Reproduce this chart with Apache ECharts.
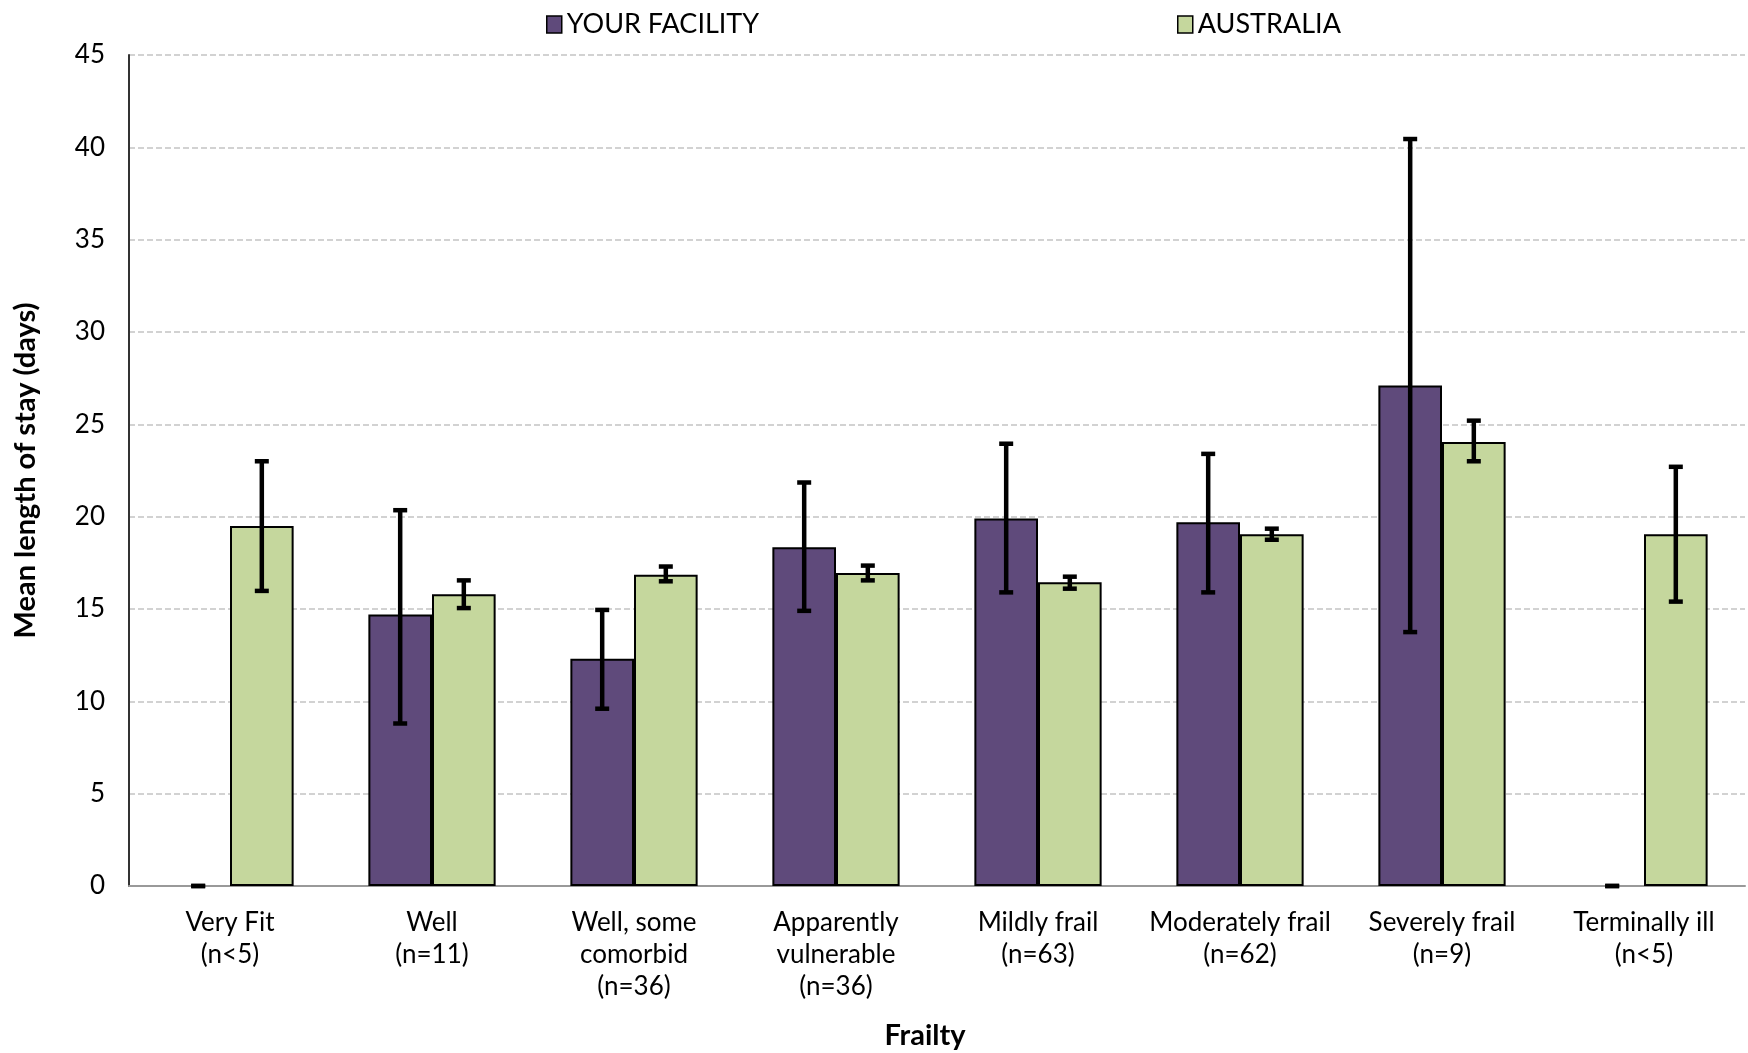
<!DOCTYPE html>
<html>
<head>
<meta charset="utf-8">
<script src="https://cdn.jsdelivr.net/npm/echarts@6/dist/echarts.min.js"></script>
<style>html,body{margin:0;padding:0;background:#fff}#main{width:1748px;height:1053px}</style>
</head>
<body>
<div id="main"></div>
<script>
const categories = ['Very Fit\n(n<5)', 'Well\n(n=11)', 'Well, some\ncomorbid\n(n=36)', 'Apparently\nvulnerable\n(n=36)',
  'Mildly frail\n(n=63)', 'Moderately frail\n(n=62)', 'Severely frail\n(n=9)', 'Terminally ill\n(n<5)'];
const facility = [0, 14.7, 12.3, 18.35, 19.9, 19.7, 27.1, 0];
const facilityLow = [0, 8.8, 9.6, 14.9, 15.9, 15.9, 13.75, 0];
const facilityHigh = [0, 20.35, 14.95, 21.85, 23.95, 23.4, 40.45, 0];
const australia = [19.5, 15.8, 16.85, 16.95, 16.45, 19.05, 24.05, 19.05];
const australiaLow = [15.98, 15.05, 16.5, 16.55, 16.1, 18.75, 23.0, 15.4];
const australiaHigh = [23.0, 16.55, 17.3, 17.35, 16.75, 19.35, 25.2, 22.7];
const yTicks = { min: 0, max: 45, interval: 5 };

const FONT = 'Lato, "DejaVu Sans", sans-serif';
const GAP = 0.37; // barCategoryGap

function errorSeries(name, low, high, side) {
  return {
    type: 'custom', name: name + ' err', z: 10, silent: true,
    data: low.map((l, i) => [i, l, high[i]]),
    renderItem(params, api) {
      const band = api.size([1, 0])[0];
      const bw = band * (1 - GAP) / 2;
      const x0 = api.coord([api.value(0), 0])[0] + side * bw / 2;
      const yl = api.coord([0, api.value(1)])[1];
      const yh = api.coord([0, api.value(2)])[1];
      const st = { stroke: '#000', lineWidth: 4.5 };
      const cw = 7;
      return { type: 'group', children: [
        { type: 'line', shape: { x1: x0, y1: yl, x2: x0, y2: yh }, style: st },
        { type: 'line', shape: { x1: x0 - cw, y1: yl, x2: x0 + cw, y2: yl }, style: st },
        { type: 'line', shape: { x1: x0 - cw, y1: yh, x2: x0 + cw, y2: yh }, style: st },
      ] };
    },
  };
}

const legendText = { fontSize: 27, color: '#000', fontFamily: FONT };
const chart = echarts.init(document.getElementById('main'));
chart.setOption({
  animation: false,
  textStyle: { fontFamily: FONT },
  legend: [
    { data: ['YOUR FACILITY'], left: 541, top: 6, icon: 'rect', itemWidth: 15, itemHeight: 17, itemGap: 6,
      itemStyle: { borderColor: '#000', borderWidth: 1.5 }, textStyle: legendText },
    { data: ['AUSTRALIA'], left: 1172, top: 6, icon: 'rect', itemWidth: 15, itemHeight: 17, itemGap: 6,
      itemStyle: { borderColor: '#000', borderWidth: 1.5 }, textStyle: legendText },
  ],
  grid: { left: 129, right: 3, top: 55, bottom: 167, outerBoundsMode: 'none' },
  xAxis: {
    type: 'category', data: categories,
    name: 'Frailty', nameLocation: 'middle', nameGap: 135,
    nameTextStyle: { fontSize: 29, fontWeight: 'bold', color: '#000', fontFamily: FONT, padding: [0, 24, 0, 0] },
    axisLine: { lineStyle: { color: '#999', width: 2 } },
    axisTick: { show: false },
    axisLabel: { fontSize: 26, color: '#000', lineHeight: 32, margin: 21, interval: 0, fontFamily: FONT },
  },
  yAxis: {
    type: 'value', min: yTicks.min, max: yTicks.max, interval: yTicks.interval,
    name: 'Mean length of stay (days)', nameLocation: 'middle', nameGap: 89,
    nameTextStyle: { fontSize: 29, fontWeight: 'bold', color: '#000', fontFamily: FONT },
    axisLine: { show: true, lineStyle: { color: '#333', width: 2 } },
    axisTick: { show: false },
    axisLabel: { fontSize: 26, color: '#000', margin: 24, fontFamily: FONT },
    splitLine: { lineStyle: { color: '#c4c4c4', type: [6, 3], width: 1.5 } },
  },
  series: [
    { type: 'bar', name: 'YOUR FACILITY', data: facility.map(v => v === 0 ? '-' : v),
      barGap: '0%', barCategoryGap: (GAP * 100) + '%',
      itemStyle: { color: '#5f4a7b', borderColor: '#000', borderWidth: 2 } },
    { type: 'bar', name: 'AUSTRALIA', data: australia,
      itemStyle: { color: '#c5d79d', borderColor: '#000', borderWidth: 2 } },
    errorSeries('YOUR FACILITY', facilityLow, facilityHigh, -1),
    errorSeries('AUSTRALIA', australiaLow, australiaHigh, 1),
  ],
});
</script>
</body>
</html>
